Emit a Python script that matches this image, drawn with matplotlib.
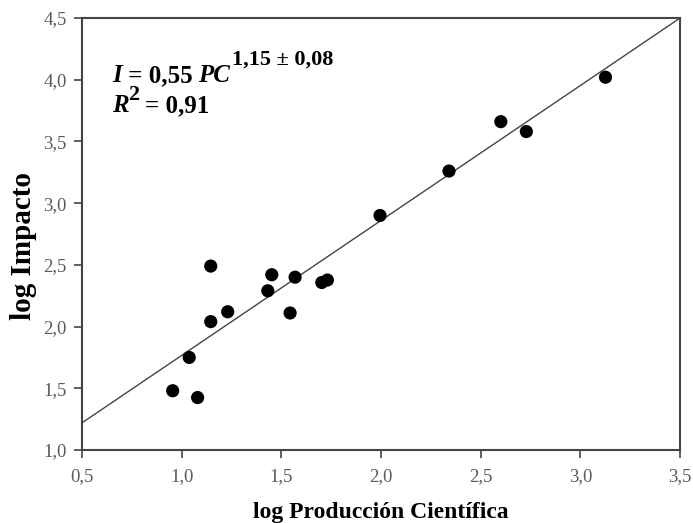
import matplotlib
matplotlib.use('Agg')
import matplotlib.pyplot as plt
import numpy as np

# data
log_pc = [0.955, 1.038, 1.080, 1.146, 1.146, 1.231, 1.432, 1.452, 1.544, 1.569,
          1.703, 1.731, 1.995, 2.341, 2.601, 2.729, 3.126]
log_impacto = [1.48, 1.75, 1.425, 2.04, 2.49, 2.12, 2.29, 2.42, 2.11, 2.40,
               2.357, 2.377, 2.90, 3.26, 3.66, 3.58, 4.02]

# regression line as drawn (from 0,5 -> 1,22 to 3,5 -> 4,5)
line_slope = 1.0933
line_intercept = 0.673

x_ticks = [0.5, 1.0, 1.5, 2.0, 2.5, 3.0, 3.5]
y_ticks = [1.0, 1.5, 2.0, 2.5, 3.0, 3.5, 4.0, 4.5]

plt.rcParams['font.family'] = 'Liberation Serif'

TICK_COLOR = '#5a5a5a'
SPINE_COLOR = '#444444'
EQ_SIZE = 18
SUP_SIZE = 16

fig = plt.figure(figsize=(6.93, 5.23), dpi=100)
ax = fig.add_axes([0.1183, 0.1396, 0.8630, 0.8260])

xs = np.array([x_ticks[0], x_ticks[-1]])
ax.plot(xs, line_slope * xs + line_intercept, '-', color='#444444', lw=1.0, zorder=2)
ax.scatter(log_pc, log_impacto, s=90, color='black', edgecolors='none', zorder=3)

ax.set_xlim(x_ticks[0], x_ticks[-1])
ax.set_ylim(y_ticks[0], y_ticks[-1])
ax.set_xticks(x_ticks)
ax.set_yticks(y_ticks)
ax.set_xticklabels([('%.1f' % v).replace('.', ',') for v in x_ticks])
ax.set_yticklabels([('%.1f' % v).replace('.', ',') for v in y_ticks])
ax.tick_params(direction='out', length=6, width=1.2, color=SPINE_COLOR,
               labelcolor=TICK_COLOR, labelsize=13.5, pad=5)
ax.tick_params(axis='x', pad=7)
for sp in ax.spines.values():
    sp.set_color(SPINE_COLOR)
    sp.set_linewidth(1.5)

ax.set_xlabel('log Producción Científica', fontsize=17, fontweight='bold', labelpad=12)
ax.set_ylabel('log Impacto', fontsize=21, fontweight='bold')
ax.yaxis.set_label_coords(-0.075, 0.472)


def chain(prev, s, size=EQ_SIZE, italic=False, dx=0, dy=0):
    # put a text piece right after the previous one
    return ax.annotate(s, xy=(1, 0), xycoords=prev, xytext=(dx, dy),
                       textcoords='offset points', ha='left', va='bottom',
                       fontsize=size, fontweight='bold',
                       fontstyle='italic' if italic else 'normal')


# equation, line 1
t = ax.text(0.050, 0.852, 'I', transform=ax.transAxes, fontsize=EQ_SIZE,
            fontweight='bold', fontstyle='italic', ha='left', va='baseline')
t = chain(t, ' = 0,55 ')
t = chain(t, 'PC', italic=True)
chain(t, '1,15 ± 0,08', size=SUP_SIZE, dx=1, dy=12.5)

# equation, line 2
t = ax.text(0.050, 0.782, 'R', transform=ax.transAxes, fontsize=EQ_SIZE,
            fontweight='bold', fontstyle='italic', ha='left', va='baseline')
t2 = chain(t, '2', size=SUP_SIZE, dx=0, dy=9)
ax.annotate('= 0,91', xy=(1, 0), xycoords=t2, xytext=(4, -9),
            textcoords='offset points', ha='left', va='bottom',
            fontsize=EQ_SIZE, fontweight='bold')

fig.savefig('out.png', dpi=100)
